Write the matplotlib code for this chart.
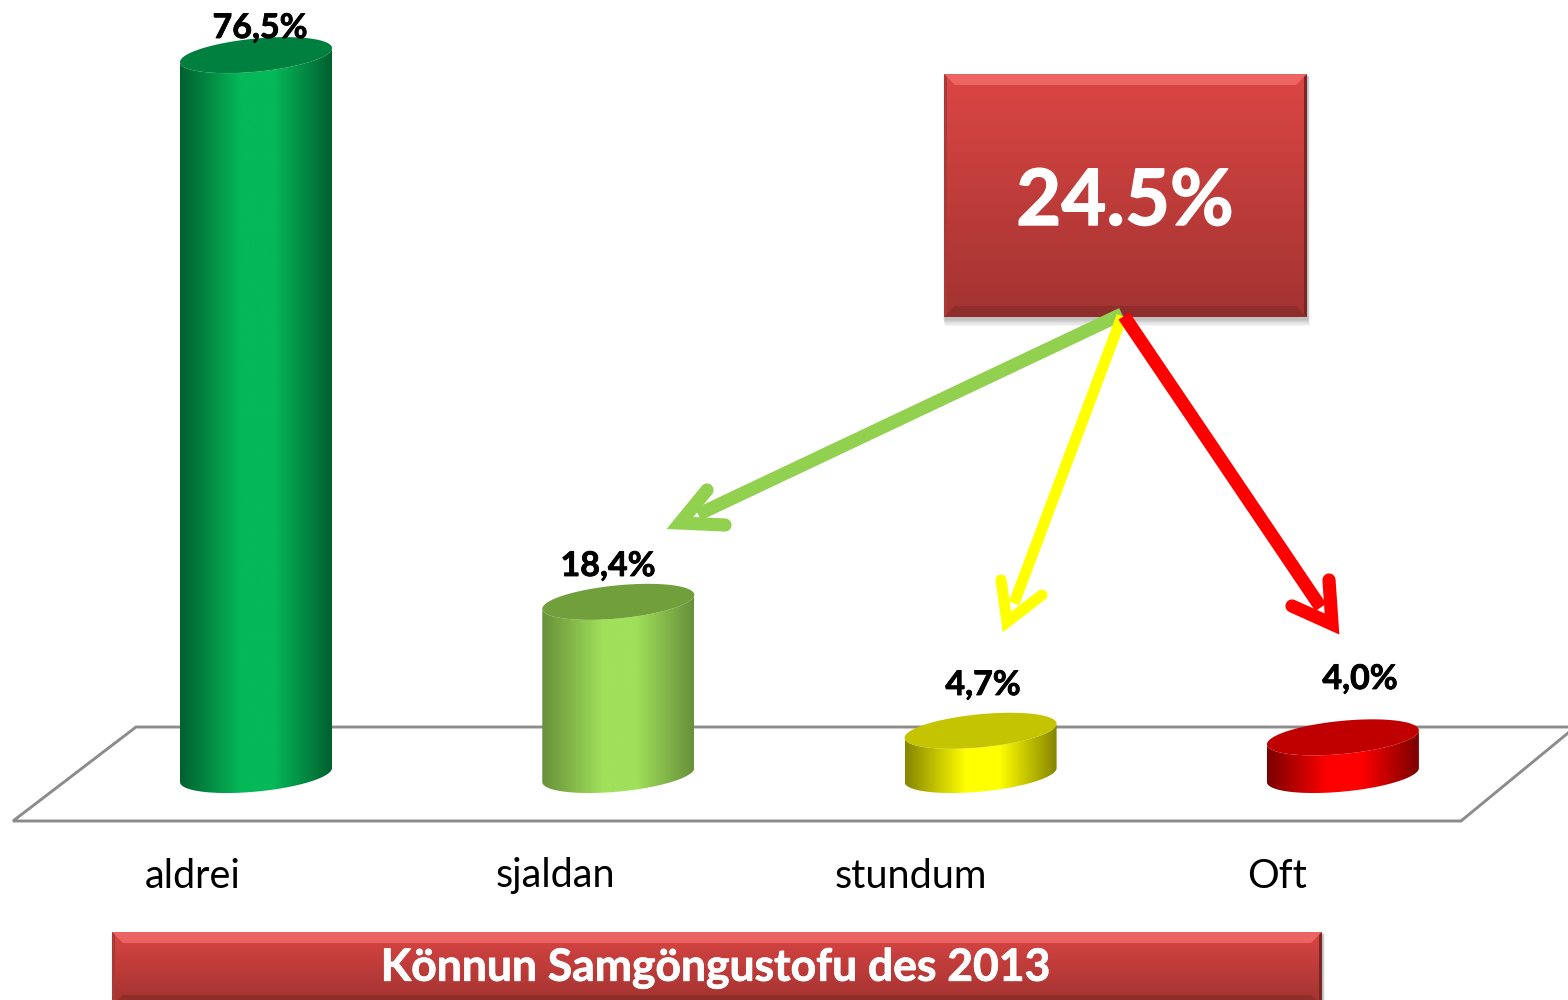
import numpy as np
import matplotlib
matplotlib.use('Agg')
import matplotlib.pyplot as plt
import matplotlib.patheffects as pe
from matplotlib.colors import LinearSegmentedColormap
from matplotlib.patches import Polygon, Rectangle

plt.rcParams['font.family'] = ['Lato', 'DejaVu Sans']

categories = ['aldrei', 'sjaldan', 'stundum', 'Oft']
values = [76.5, 18.4, 4.7, 4.0]
value_labels = ['76,5%', '18,4%', '4,7%', '4,0%']
total_label = '24.5%'
title = 'Könnun Samgöngustofu des 2013'

bright = ['#05b858', '#a0e05a', '#ffff00', '#ff0000']
edge = ['#00602f', '#68903a', '#858500', '#7a0000']
top = ['#00803f', '#709f3c', '#c4c400', '#c00000']
arrow_colors = ['#92d050', '#ffff00', '#ff0000']

# scales in pixels of the 1568x1000 picture
X0, DX = 256.0, 362.3
Y0, DY = 775.0, 9.41
W, H = 1568, 1000

fig = plt.figure(figsize=(15.68, 10), dpi=100)

# px axes for everything that is not a bar
back = fig.add_axes([0, 0, 1, 1], zorder=1)
ax = fig.add_axes([0, 0, 1, 1], zorder=2)
front = fig.add_axes([0, 0, 1, 1], zorder=3)
for a in [back, front]:
    a.set_xlim(0, W)
    a.set_ylim(H, 0)
    a.axis('off')
ax.set_xlim(-X0 / DX, (W - X0) / DX)
ax.set_ylim((Y0 - H) / DY, Y0 / DY)
ax.axis('off')

# floor of the 3d chart
floor_x = [1568, 136, 13, 1461, 1568]
floor_y = [727, 727, 821, 821, 733]
back.plot(floor_x, floor_y, color='#8c8c8c', lw=2.1, solid_joinstyle='miter')


def ellipse(i, v, half=False):
    t = np.linspace(np.pi, 2 * np.pi, 80) if half else np.linspace(0, 2 * np.pi, 160)
    # 76 px half width, sheared so that the right side sits higher
    px = 76 * np.cos(t)
    py = -7 * np.cos(t) - 16.6 * np.sin(t)
    return np.column_stack([i + px / DX, v - py / DY])


for i, v in enumerate(values):
    cmap = LinearSegmentedColormap.from_list(
        'c', [(0, edge[i]), (0.4, bright[i]), (0.62, bright[i]), (1, edge[i])])
    low = ellipse(i, 0, half=True)
    up = ellipse(i, v, half=True)[::-1]
    body = Polygon(np.vstack([low, up]), closed=True, transform=ax.transData, fc='none', ec='none')
    ax.add_patch(body)
    grad = np.linspace(0, 1, 256).reshape(1, -1)
    im = ax.imshow(grad, cmap=cmap, aspect='auto', interpolation='bilinear',
                   extent=[i - 76 / DX, i + 76 / DX, -3, v + 3])
    im.set_clip_path(body)
    ax.add_patch(Polygon(ellipse(i, v), closed=True, fc=top[i], ec='none', zorder=3))
ax.set_xlim(-X0 / DX, (W - X0) / DX)
ax.set_ylim((Y0 - H) / DY, Y0 / DY)

thick = [pe.withStroke(linewidth=0.6, foreground='black')]
label_px = [(260, 28), (608, 566), (983, 685), (1360, 679)]
for s, (x, y) in zip(value_labels, label_px):
    front.text(x, y, s, fontsize=24.5, fontweight='bold', color='black', ha='center', va='center',
               path_effects=thick)

cat_px = [193, 555, 911, 1277]
for s, x in zip(categories, cat_px):
    front.text(x, 876, s, fontsize=28.5, color='black', ha='center', va='center')


def bevel_box(x0, y0, x1, y1, c_top, c_bot, bev):
    # soft shadow
    for k in range(1, 7):
        front.add_patch(Rectangle((x0 - 1 + k * 0.3, y0 + 2), x1 - x0 + 2, y1 - y0 + k * 1.1,
                                  fc='black', ec='none', alpha=0.045, zorder=1))
    cmap = LinearSegmentedColormap.from_list('b', [c_top, c_bot])
    front.imshow(np.linspace(0, 1, 256).reshape(-1, 1), cmap=cmap, aspect='auto',
                 extent=[x0, x1, y1, y0], zorder=2, interpolation='bilinear')
    front.add_patch(Polygon([(x0, y0), (x1, y0), (x1 - bev, y0 + bev), (x0 + bev, y0 + bev)],
                            fc='#f26d6b', ec='none', alpha=0.8, zorder=3))
    front.add_patch(Polygon([(x0, y1), (x1, y1), (x1 - bev, y1 - bev), (x0 + bev, y1 - bev)],
                            fc='#7e2927', ec='none', alpha=0.55, zorder=3))
    front.add_patch(Polygon([(x0, y0), (x0 + 3, y0 + 3), (x0 + 3, y1 - 3), (x0, y1)],
                            fc='#a83a38', ec='none', zorder=3))
    front.add_patch(Polygon([(x1, y0), (x1 - 3, y0 + 3), (x1 - 3, y1 - 3), (x1, y1)],
                            fc='#7a2624', ec='none', zorder=3))
    front.set_xlim(0, W)
    front.set_ylim(H, 0)


bevel_box(944, 74, 1307, 317, '#dc4644', '#a23331', 11)
front.text(1125, 203, total_label, fontsize=56, fontweight='bold', color='white',
           ha='center', va='center', zorder=5,
           path_effects=[pe.withStroke(linewidth=1.0, foreground='white')])

bevel_box(112, 932, 1322, 1006, '#d94543', '#a03230', 11)
front.text(716, 968, title, fontsize=32, fontweight='bold', color='white',
           ha='center', va='center', zorder=5,
           path_effects=[pe.withStroke(linewidth=0.6, foreground='white')])

# arrows from the box down to the three small bars
starts = [(1122, 314), (1122, 316), (1124, 316)]
tips = [(680, 523), (1007, 622), (1332, 624)]
barbs = [((707, 490), (725, 525)), ((1001, 580), (1042, 595)), ((1329, 580), (1292, 606))]
widths = [9.5, 8, 9.5]
for c, s, tp, b, lw in zip(arrow_colors, starts, tips, barbs, widths):
    d = np.array(tp, dtype=float) - np.array(s, dtype=float)
    end = np.array(s) + d * (1 - 20 / np.hypot(*d))
    front.plot([s[0], end[0]], [s[1], end[1]], color=c, lw=lw, solid_capstyle='butt', zorder=6)
    front.plot([b[0][0], tp[0], b[1][0]], [b[0][1], tp[1], b[1][1]], color=c, lw=lw,
               solid_capstyle='round', solid_joinstyle='miter', zorder=6)

fig.savefig('out.png', dpi=100)
